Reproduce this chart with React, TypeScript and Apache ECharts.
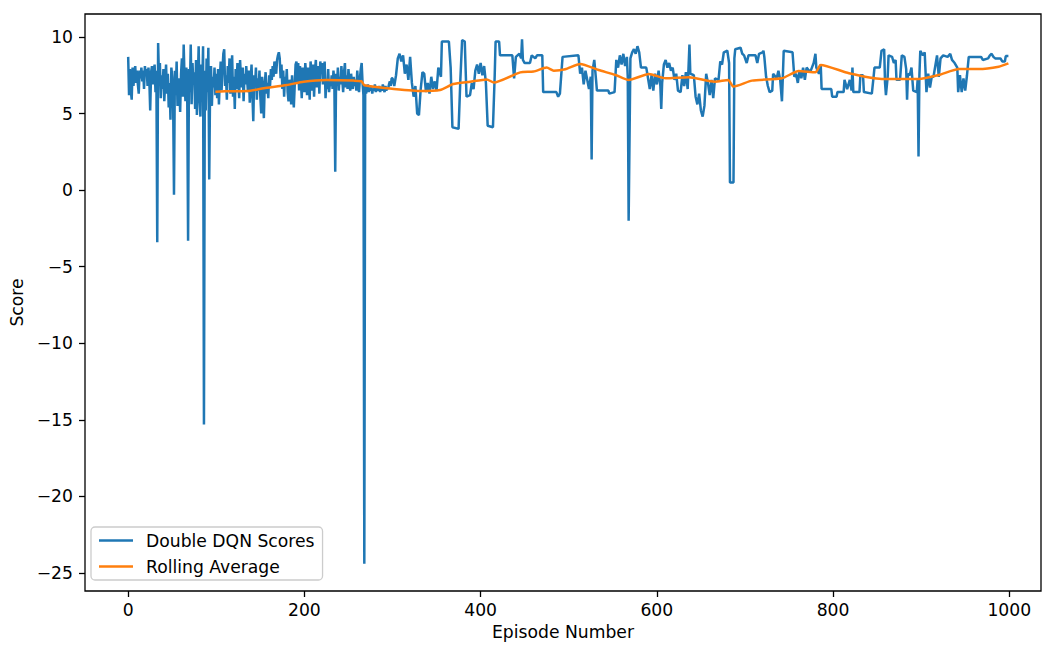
import React, { useEffect, useRef } from "react";
import * as echarts from "echarts";

// Scores for episodes 0..299 (one per episode)
const scoresEarly: number[] = [
  8.7, 6.2, 7.9, 6.5, 5.9, 8.0, 6.8, 7.6, 8.1, 7.0,
  7.8, 6.9, 6.3, 7.8, 7.3, 8.0, 7.1, 7.8, 6.6, 8.1,
  7.5, 7.9, 6.8, 8.0, 7.2, 5.2, 7.7, 8.1, 6.9, 7.6,
  8.2, 6.4, 7.8, -3.4, 9.6, 7.2, 8.3, 6.0, 7.5, 6.6,
  7.9, 5.8, 7.1, 8.2, 6.3, 7.6, 5.4, 7.0, 4.6, 8.0,
  7.4, 5.9, -0.3, 7.8, 6.2, 8.4, 5.5, 7.3, 6.8, 5.1,
  7.6, 8.6, 6.1, 9.5, 7.2, 5.8, 8.0, 6.5, -3.3, 7.9,
  6.4, 9.5, 5.6, 8.3, 6.9, 7.7, 5.3, 8.5, 4.9, 7.1,
  9.4, 6.0, 4.8, 8.2, 6.6, 9.4, -15.3, 7.8, 5.2, 8.6,
  6.4, 9.3, 0.7, 6.8, 8.1, 5.5, 7.4, 6.7, 8.0, 6.2,
  7.6, 6.0, 7.9, 5.6, 7.2, 8.4, 6.5, 7.8, 8.9, 9.2,
  6.8, 7.5, 5.9, 8.1, 7.0, 8.6, 6.3, 7.7, 8.8, 6.1,
  7.4, 5.3, 7.9, 6.6, 8.3, 7.1, 6.0, 8.5, 7.3, 6.7,
  8.0, 5.8, 7.6, 6.9, 8.1, 7.2, 6.4, 7.8, 5.7, 7.0,
  8.2, 6.2, 4.5, 7.5, 6.8, 8.0, 5.9, 7.3, 6.5, 7.8,
  6.1, 5.0, 7.4, 6.6, 4.7, 6.9, 7.7, 6.3, 7.0, 6.0,
  7.5, 6.8, 7.9, 7.2, 8.1, 7.4, 8.4, 8.0, 7.6, 8.5,
  8.8, 9.0, 8.6, 7.3, 8.2, 6.6, 7.8, 6.1, 7.4, 6.8,
  7.9, 6.4, 5.8, 7.2, 6.9, 5.6, 7.5, 6.3, 5.4, 6.8,
  8.2, 8.4, 7.0, 8.3, 6.5, 8.1, 7.2, 6.0, 8.0, 7.1,
  6.4, 8.3, 7.6, 6.2, 8.0, 7.3, 5.9, 8.4, 7.7, 6.5,
  8.2, 6.1, 7.8, 8.5, 6.7, 7.4, 8.1, 6.3, 8.4, 7.9,
  8.3, 6.9, 7.6, 8.4, 6.0, 7.2, 6.6, 7.9, 6.4, 7.0,
  6.8, 7.5, 6.6, 7.8, 7.0, 1.2, 7.6, 6.8, 8.0, 6.5,
  7.4, 6.9, 8.1, 7.2, 6.4, 7.7, 8.3, 6.7, 7.5, 6.6,
  7.9, 7.1, 6.5, 7.6, 7.0, 6.6, 7.4, 6.8, 7.2, 6.5,
  7.8, 6.9, 6.4, 7.3, 7.9, 8.3, 7.0, 6.2, -24.4, 6.8,
  6.3, 6.6, 6.9, 6.4, 6.7, 6.5, 6.8, 6.3, 6.6, 6.5,
  6.9, 6.4, 6.7, 6.5, 6.6, 6.8, 6.4, 6.7, 6.5, 6.9,
  6.6, 6.4, 6.8, 6.5, 6.7, 6.6, 6.9, 7.1, 6.8, 7.3,
];

// Scores for episodes 300..999 as [episode, score] (step-like part)
const scoresLate: [number, number][] = [
  [300, 7.3], [302, 6.8], [304, 7.5], [306, 8.6], [308, 8.9], [310, 8.4], [312, 8.8], [314, 7.6],
  [316, 8.2], [318, 7.2], [320, 8.7], [322, 7.0], [324, 6.1], [326, 6.8], [328, 5.0], [330, 4.9],
  [332, 6.6], [334, 7.7], [336, 7.6], [338, 6.4], [340, 7.0], [342, 6.3], [344, 7.4], [346, 6.6],
  [348, 7.1], [350, 6.5], [352, 8.0], [355, 7.4], [356, 9.7], [364, 9.7], [366, 8.0], [368, 4.1],
  [375, 4.0], [377, 7.2], [379, 9.8], [382, 9.7], [384, 6.1], [388, 6.2], [390, 7.0], [392, 6.6],
  [394, 7.8], [396, 8.2], [398, 7.6], [400, 8.3], [402, 7.5], [404, 8.1], [406, 7.0], [408, 4.2],
  [414, 4.1], [416, 7.5], [417, 9.7], [421, 9.7], [422, 8.8], [436, 8.8], [438, 7.3], [440, 8.7],
  [444, 8.9], [446, 8.6], [447, 9.85], [448, 8.5], [450, 8.3], [456, 8.3], [458, 8.8], [462, 8.6],
  [464, 8.8], [470, 8.8], [471, 6.4], [486, 6.4], [488, 6.1], [490, 6.3], [493, 8.7], [511, 8.8],
  [513, 7.6], [515, 8.0], [517, 6.9], [519, 7.8], [521, 7.2], [523, 6.6], [525, 7.4], [526, 2.0],
  [527, 7.8], [529, 8.5], [531, 7.2], [532, 6.5], [545, 6.5], [546, 6.3], [552, 6.4], [554, 8.5],
  [556, 8.0], [558, 8.8], [560, 8.2], [562, 8.9], [564, 8.1], [566, 8.7], [567, 7.4], [568, -2.0],
  [570, 8.6], [572, 9.0], [574, 9.2], [576, 8.9], [578, 9.4], [580, 9.0], [582, 8.0], [588, 8.0],
  [590, 7.3], [592, 6.6], [594, 7.5], [596, 6.5], [598, 7.6], [600, 6.9], [602, 7.8], [604, 6.8],
  [605, 5.3], [606, 7.0], [608, 8.2], [610, 8.5], [612, 8.0], [614, 8.3], [616, 7.8], [618, 8.0],
  [620, 7.2], [622, 7.6], [624, 6.5], [627, 6.4], [629, 7.5], [631, 6.8], [633, 7.7], [635, 6.6],
  [637, 9.5], [638, 7.6], [642, 7.5], [644, 6.1], [646, 5.6], [648, 6.3], [650, 5.2], [652, 4.8],
  [654, 5.5], [656, 7.6], [658, 7.0], [660, 6.2], [662, 7.2], [664, 6.0], [666, 7.3], [670, 7.2],
  [672, 8.4], [674, 8.2], [676, 9.0], [680, 9.1], [682, 8.3], [683, 0.5], [687, 0.5], [688, 8.6],
  [689, 9.2], [695, 9.3], [697, 8.9], [699, 8.8], [702, 8.3], [704, 8.8], [712, 8.8], [714, 8.3],
  [716, 8.9], [720, 9.0], [721, 9.1], [722, 8.7], [724, 7.4], [726, 6.8], [728, 6.4], [731, 6.5],
  [732, 7.6], [736, 7.3], [738, 7.8], [740, 7.2], [742, 5.8], [743, 7.4], [744, 9.1], [754, 9.0],
  [756, 7.4], [758, 7.6], [760, 7.0], [762, 7.8], [764, 7.3], [766, 8.0], [768, 7.2], [770, 8.0],
  [774, 7.7], [776, 8.0], [778, 8.3], [780, 8.9], [781, 8.0], [784, 7.6], [786, 8.2], [787, 6.6],
  [798, 6.6], [799, 6.1], [804, 6.1], [805, 6.4], [812, 6.4], [813, 7.2], [816, 6.6], [819, 7.2],
  [821, 6.5], [822, 8.0], [823, 6.4], [830, 6.4], [831, 7.5], [834, 7.5], [835, 6.4], [844, 6.3],
  [846, 7.4], [847, 8.0], [853, 8.0], [855, 9.1], [858, 9.2], [859, 7.0], [860, 6.2], [862, 7.4],
  [863, 8.8], [867, 8.7], [869, 8.3], [871, 8.5], [872, 7.2], [876, 7.2], [878, 8.8], [881, 8.7],
  [883, 7.9], [884, 5.9], [885, 7.6], [887, 7.5], [889, 8.0], [891, 6.5], [895, 6.4], [896, 7.2],
  [897, 2.2], [898, 7.5], [899, 9.1], [902, 8.8], [904, 9.0], [906, 6.4], [908, 7.6], [910, 6.7],
  [912, 7.4], [914, 7.4], [918, 8.8], [920, 7.4], [922, 8.6], [925, 8.8], [930, 8.7], [933, 8.9],
  [935, 8.5], [938, 8.3], [941, 8.0], [942, 6.4], [944, 7.5], [946, 6.4], [948, 7.3], [950, 6.5],
  [952, 7.5], [954, 8.7], [968, 8.7], [970, 8.5], [976, 8.6], [978, 8.8], [980, 8.9], [982, 8.7],
  [984, 8.6], [990, 8.6], [992, 8.4], [995, 8.4], [996, 8.75], [999, 8.75],
];

// Rolling average (100-episode window) as [episode, value]
const rollingAverage: [number, number][] = [
  [99, 6.43], [110, 6.45], [135, 6.47], [154, 6.65], [180, 6.86], [199, 7.08], [225, 7.19],
  [256, 7.15], [265, 7.1], [268, 6.85], [294, 6.65], [331, 6.47], [354, 6.54], [369, 6.93],
  [388, 7.08], [407, 7.23], [415, 7.02], [445, 7.69], [460, 7.74], [475, 8.0], [483, 7.8],
  [496, 7.89], [513, 8.24], [534, 7.84], [553, 7.52], [568, 7.19], [591, 7.58], [610, 7.3],
  [636, 7.37], [666, 7.08], [681, 7.19], [687, 6.76], [708, 7.15], [742, 7.3], [761, 7.78],
  [780, 7.69], [786, 8.17], [818, 7.63], [855, 7.26], [897, 7.26], [920, 7.52], [943, 7.91],
  [965, 7.91], [988, 8.06], [999, 8.28],
];

const xTicks = [0, 200, 400, 600, 800, 1000];
const yTicks = [-25, -20, -15, -10, -5, 0, 5, 10];

const FONT = "DejaVu Sans";
const FS = 17.2;

export default function App() {
  const ref = useRef<HTMLDivElement>(null);
  useEffect(() => {
    document.body.style.margin = "0";
    const chart = echarts.init(ref.current!, null, { renderer: "svg" });
    const scoreData: [number, number][] = scoresEarly
      .map((v, i) => [i, v] as [number, number])
      .concat(scoresLate);
    const fmt = (v: number) => (v < 0 ? "\u2212" + Math.abs(v) : String(v));
    chart.setOption({
      animation: false,
      backgroundColor: "#ffffff",
      textStyle: { fontFamily: FONT },
      grid: {
        left: 85,
        top: 14,
        right: 1,
        bottom: 54,
        show: true,
        borderColor: "#000",
        borderWidth: 1.3,
        backgroundColor: "transparent",
      },
      legend: {
        data: ["Double DQN Scores", "Rolling Average"],
        orient: "vertical",
        left: 91,
        top: 527,
        icon: "rect",
        itemWidth: 34,
        itemHeight: 2.5,
        itemGap: 9,
        padding: [5, 8, 5, 8],
        backgroundColor: "rgba(255,255,255,0.8)",
        borderColor: "#cccccc",
        borderWidth: 1.3,
        borderRadius: 4,
        textStyle: {
          fontSize: FS,
          fontFamily: FONT,
          color: "#000",
          lineHeight: 17,
          padding: [0, 0, 0, 8],
        },
      },
      xAxis: {
        type: "value",
        min: -49,
        max: 1036,
        name: "Episode Number",
        nameLocation: "middle",
        nameGap: 32,
        nameTextStyle: { fontSize: FS, fontFamily: FONT, color: "#000" },
        axisLine: { show: false, onZero: false },
        axisTick: {
          show: true,
          length: 6,
          lineStyle: { color: "#000", width: 1.3 },
          customValues: xTicks,
        },
        axisLabel: {
          fontSize: FS,
          fontFamily: FONT,
          color: "#000",
          margin: 10,
          customValues: xTicks,
          formatter: (v: number) => fmt(v),
        },
        splitLine: { show: false },
      },
      yAxis: {
        type: "value",
        min: -26.18,
        max: 11.5,
        name: "Score",
        nameLocation: "middle",
        nameGap: 58,
        nameTextStyle: { fontSize: FS, fontFamily: FONT, color: "#000" },
        axisLine: { show: false, onZero: false },
        axisTick: {
          show: true,
          length: 6,
          lineStyle: { color: "#000", width: 1.3 },
          customValues: yTicks,
        },
        axisLabel: {
          fontSize: FS,
          fontFamily: FONT,
          color: "#000",
          margin: 12,
          customValues: yTicks,
          formatter: (v: number) => fmt(v),
        },
        splitLine: { show: false },
      },
      series: [
        {
          name: "Double DQN Scores",
          type: "line",
          data: scoreData,
          showSymbol: false,
          symbol: "none",
          lineStyle: { color: "#1f77b4", width: 2.5 },
          itemStyle: { color: "#1f77b4" },
          z: 2,
        },
        {
          name: "Rolling Average",
          type: "line",
          data: rollingAverage,
          showSymbol: false,
          symbol: "none",
          smooth: 0.2,
          lineStyle: { color: "#ff7f0e", width: 2.5 },
          itemStyle: { color: "#ff7f0e" },
          z: 3,
        },
      ],
    });
    return () => chart.dispose();
  }, []);
  return <div ref={ref} style={{ width: 1042, height: 645 }} />;
}
